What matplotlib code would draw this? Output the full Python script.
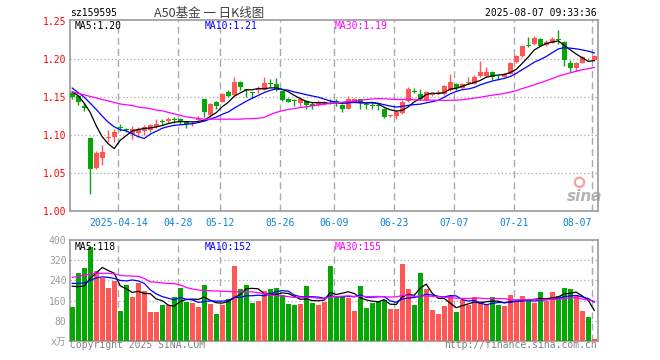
import numpy as np
import pandas as pd
import matplotlib
matplotlib.use('Agg')
from matplotlib import pyplot as plt

# daily candles, 2025-04-01 .. 2025-08-07 (A50 ETF, sz159595)
dates = ['04-01', '04-02', '04-03', '04-07', '04-08', '04-09', '04-10', '04-11',
         '04-14', '04-15', '04-16', '04-17', '04-18', '04-21', '04-22', '04-23', '04-24', '04-25',
         '04-28', '04-29', '04-30', '05-06', '05-07', '05-08', '05-09',
         '05-12', '05-13', '05-14', '05-15', '05-16', '05-19', '05-20', '05-21', '05-22', '05-23',
         '05-26', '05-27', '05-28', '05-29', '05-30', '06-03', '06-04', '06-05', '06-06',
         '06-09', '06-10', '06-11', '06-12', '06-13', '06-16', '06-17', '06-18', '06-19', '06-20',
         '06-23', '06-24', '06-25', '06-26', '06-27', '06-30', '07-01', '07-02', '07-03', '07-04',
         '07-07', '07-08', '07-09', '07-10', '07-11', '07-14', '07-15', '07-16', '07-17', '07-18',
         '07-21', '07-22', '07-23', '07-24', '07-25', '07-28', '07-29', '07-30', '07-31', '08-01',
         '08-04', '08-05', '08-06', '08-07']

opens = [1.156, 1.151, 1.138, 1.096, 1.057, 1.070, 1.096, 1.098, 1.111, 1.108,
         1.102, 1.103, 1.105, 1.107, 1.111, 1.118, 1.118, 1.121, 1.121, 1.118,
         1.114, 1.120, 1.147, 1.126, 1.143, 1.144, 1.157, 1.153, 1.170, 1.160,
         1.156, 1.159, 1.160, 1.169, 1.167, 1.158, 1.148, 1.146, 1.142, 1.145,
         1.141, 1.140, 1.141, 1.144, 1.145, 1.140, 1.135, 1.144, 1.147, 1.141,
         1.140, 1.139, 1.135, 1.125, 1.125, 1.129, 1.145, 1.158, 1.154, 1.146,
         1.153, 1.156, 1.154, 1.159, 1.168, 1.162, 1.169, 1.168, 1.178, 1.178,
         1.183, 1.177, 1.177, 1.181, 1.196, 1.204, 1.218, 1.220, 1.227, 1.219,
         1.222, 1.226, 1.223, 1.195, 1.188, 1.195, 1.202, 1.199]
highs = [1.158, 1.153, 1.142, 1.097, 1.079, 1.087, 1.107, 1.108, 1.114, 1.110,
         1.112, 1.111, 1.113, 1.114, 1.121, 1.121, 1.124, 1.124, 1.122, 1.119,
         1.118, 1.125, 1.148, 1.142, 1.145, 1.156, 1.159, 1.177, 1.171, 1.161,
         1.157, 1.165, 1.176, 1.174, 1.175, 1.159, 1.149, 1.148, 1.150, 1.146,
         1.143, 1.146, 1.145, 1.147, 1.147, 1.141, 1.151, 1.149, 1.148, 1.143,
         1.143, 1.141, 1.136, 1.127, 1.133, 1.146, 1.163, 1.162, 1.161, 1.158,
         1.156, 1.159, 1.166, 1.181, 1.169, 1.169, 1.177, 1.179, 1.198, 1.190,
         1.184, 1.179, 1.182, 1.196, 1.205, 1.218, 1.229, 1.230, 1.228, 1.225,
         1.229, 1.239, 1.224, 1.199, 1.196, 1.204, 1.202, 1.205]
lows = [1.147, 1.140, 1.132, 1.022, 1.055, 1.060, 1.091, 1.091, 1.106, 1.104,
        1.095, 1.097, 1.100, 1.104, 1.110, 1.113, 1.116, 1.116, 1.114, 1.110,
        1.112, 1.118, 1.124, 1.124, 1.134, 1.143, 1.150, 1.152, 1.160, 1.150,
        1.149, 1.156, 1.159, 1.163, 1.158, 1.145, 1.143, 1.138, 1.138, 1.134,
        1.134, 1.139, 1.140, 1.141, 1.138, 1.130, 1.135, 1.143, 1.134, 1.135,
        1.134, 1.133, 1.122, 1.124, 1.121, 1.128, 1.144, 1.155, 1.146, 1.145,
        1.152, 1.154, 1.153, 1.158, 1.160, 1.161, 1.167, 1.167, 1.177, 1.177,
        1.172, 1.173, 1.176, 1.180, 1.195, 1.203, 1.216, 1.219, 1.217, 1.217,
        1.221, 1.220, 1.191, 1.183, 1.185, 1.195, 1.200, 1.198]
closes = [1.150, 1.144, 1.136, 1.055, 1.076, 1.078, 1.098, 1.104, 1.110, 1.107,
          1.108, 1.108, 1.111, 1.113, 1.114, 1.117, 1.121, 1.120, 1.117, 1.114,
          1.115, 1.123, 1.130, 1.141, 1.139, 1.154, 1.152, 1.170, 1.163, 1.159,
          1.155, 1.160, 1.169, 1.168, 1.159, 1.146, 1.144, 1.145, 1.147, 1.140,
          1.138, 1.144, 1.144, 1.143, 1.144, 1.135, 1.148, 1.147, 1.142, 1.140,
          1.139, 1.138, 1.124, 1.126, 1.131, 1.144, 1.161, 1.157, 1.148, 1.157,
          1.154, 1.157, 1.165, 1.170, 1.162, 1.168, 1.170, 1.177, 1.183, 1.183,
          1.177, 1.176, 1.181, 1.195, 1.204, 1.217, 1.217, 1.228, 1.218, 1.223,
          1.227, 1.225, 1.199, 1.188, 1.195, 1.203, 1.201, 1.204]
# volume, 10k shares
volumes = [135, 270, 290, 371, 278, 248, 208, 238, 119, 221,
           175, 230, 197, 115, 115, 142, 142, 175, 209, 154,
           150, 135, 221, 146, 106, 142, 166, 298, 207, 221,
           150, 158, 197, 205, 211, 182, 146, 142, 146, 217,
           150, 142, 154, 297, 178, 175, 172, 118, 217, 131,
           151, 158, 162, 126, 126, 305, 205, 142, 270, 205,
           122, 106, 138, 179, 114, 162, 142, 174, 158, 142,
           174, 142, 138, 182, 158, 178, 158, 150, 194, 158,
           194, 178, 209, 205, 182, 118, 94, 7]

# moving averages before the window is full (uses earlier data)
ma5_head = [1.157, 1.152, 1.142, 1.130]
ma10_head = [1.162, 1.156, 1.150, 1.142, 1.134, 1.125, 1.117, 1.111, 1.107]
ma30_head = [1.157, 1.155, 1.153, 1.151, 1.149, 1.147, 1.145, 1.143, 1.141, 1.140,
             1.139, 1.137, 1.136, 1.135, 1.133, 1.132, 1.130, 1.128, 1.126, 1.124,
             1.123, 1.122, 1.121, 1.121, 1.121, 1.121, 1.121, 1.121, 1.121]
vma5_head = [217, 215, 218, 248]
vma10_head = [228, 228, 230, 240, 250, 254, 252, 248, 240]
vma30_head = [252, 256, 261, 265, 268, 268, 268, 266, 260, 258,
              257, 256, 248, 234, 233, 230, 228, 227, 222, 212,
              206, 202, 200, 199, 198, 197, 196, 195, 194]

tick_dates = ['04-14', '04-28', '05-12', '05-26', '06-09', '06-23', '07-07', '07-21', '08-07']
tick_labels = ['2025-04-14', '04-28', '05-12', '05-26', '06-09', '06-23', '07-07', '07-21', '08-07']
price_ma_text = ['MA5:1.20', 'MA10:1.21', 'MA30:1.19']
vol_ma_text = ['MA5:118', 'MA10:152', 'MA30:155']


def moving_avg(values, n, head):
    ma = pd.Series(values, dtype=float).rolling(n).mean().to_numpy()
    ma[:n - 1] = head
    return ma


RED = '#ff5656'
GREEN = '#06a606'
GRID = '#aaaaaa'
FRAME = '#999999'
MONO = ['DejaVu Sans Mono', 'Noto Sans CJK SC']
ma_colors = ['black', '#0000ff', '#ff00ff']

W, H = 660, 360
fig = plt.figure(figsize=(W / 100, H / 100), dpi=100)
ax = fig.add_axes([70 / W, 1 - 211 / H, 528 / W, 191 / H])
axv = fig.add_axes([70 / W, 1 - 341 / H, 528 / W, 101 / H])

x = np.arange(len(dates))
o = np.array(opens)
c = np.array(closes)
up = c >= o
colors = np.where(up, RED, GREEN)

# candles
ax.vlines(x, lows, highs, colors=colors, lw=1, zorder=3)
body_h = np.maximum(np.abs(c - o), 0.0012)
ax.bar(x, body_h, bottom=np.minimum(o, c), width=0.8, color=colors, lw=0, zorder=4)

ma_lines = [moving_avg(closes, 5, ma5_head), moving_avg(closes, 10, ma10_head),
            moving_avg(closes, 30, ma30_head)]
for ma, col in zip(ma_lines, ma_colors):
    ax.plot(x, ma, color=col, lw=0.9, zorder=5)

# volume
axv.bar(x, volumes, width=0.82, color=colors, lw=0, zorder=3)
vma_lines = [moving_avg(volumes, 5, vma5_head), moving_avg(volumes, 10, vma10_head),
             moving_avg(volumes, 30, vma30_head)]
for ma, col in zip(vma_lines, ma_colors):
    axv.plot(x, ma, color=col, lw=0.9, zorder=5)

grid_x = [dates.index(d) - 0.33 for d in tick_dates]

for a in (ax, axv):
    a.set_xlim(-0.37, 87.63)
    for s in a.spines.values():
        s.set_color(FRAME)
        s.set_linewidth(1.2)
    for gx in grid_x:
        a.axvline(gx, color=GRID, lw=1, linestyle=(0, (5, 3)), zorder=1)
    a.tick_params(length=0)

ax.set_ylim(1.0, 1.2517)
yt = [1.00, 1.05, 1.10, 1.15, 1.20, 1.25]
ax.set_yticks(yt)
ax.set_yticklabels(['%.2f' % v for v in yt], color='red', fontsize=7, family=MONO)
ax.tick_params(axis='y', pad=2.5)
for v in yt[1:-1]:
    ax.axhline(v, color=GRID, lw=0.9, linestyle=(0, (1, 2)), zorder=1)

ax.set_xticks(grid_x)
ax.set_xticklabels(tick_labels, color='#0a84d6', fontsize=7, family=MONO)
ax.tick_params(axis='x', pad=5)
ax.get_xticklabels()[-1].set_ha('right')

axv.set_ylim(0, 400)
vt = [0, 80, 160, 240, 320, 400]
axv.set_yticks(vt)
axv.set_yticklabels(['x万'] + [str(v) for v in vt[1:]], color='#9a9a9a', fontsize=7, family=MONO)
axv.tick_params(axis='y', pad=2.5)
axv.set_xticks([])
for v in vt[1:-1]:
    axv.axhline(v, color=GRID, lw=0.9, linestyle=(0, (1, 2)), zorder=1)

# header texts
fig.text(70 / W, 1 - 13 / H, 'sz159595', fontsize=7, family=MONO, va='center', ha='left')
fig.text(209 / W, 1 - 13 / H, 'A50基金 一 日K线图', fontsize=9, color='#404040',
         family=['Noto Sans CJK SC', 'DejaVu Sans'], va='center', ha='center')
fig.text(597 / W, 1 - 13 / H, '2025-08-07 09:33:36', fontsize=7, family=MONO, va='center', ha='right')

for txt, col, px in zip(price_ma_text, ma_colors, [75, 205, 335]):
    fig.text(px / W, 1 - 26 / H, txt, color=col, fontsize=7, family=MONO, va='center')
for txt, col, px in zip(vol_ma_text, ma_colors, [75, 205, 335]):
    fig.text(px / W, 1 - 246.5 / H, txt, color=col, fontsize=7, family=MONO, va='center')

fig.text(70 / W, 1 - 345.5 / H, 'Copyright 2025 SINA.COM', color='#808080', fontsize=7,
         family=MONO, va='center')
fig.text(597 / W, 1 - 345.5 / H, 'http://finance.sina.com.cn', color='#808080', fontsize=7,
         family=MONO, va='center', ha='right')

# sina watermark
ax.text(0.975, 0.075, 'sina', transform=ax.transAxes, fontsize=11, fontstyle='italic',
        fontweight='bold', color='#b4b4b4', ha='center', va='center', zorder=2)
ax.scatter([0.965], [0.15], s=45, transform=ax.transAxes, facecolors='none',
           edgecolors='#f4a0a0', linewidths=1.6, zorder=2)

fig.savefig('out.png', dpi=100)
